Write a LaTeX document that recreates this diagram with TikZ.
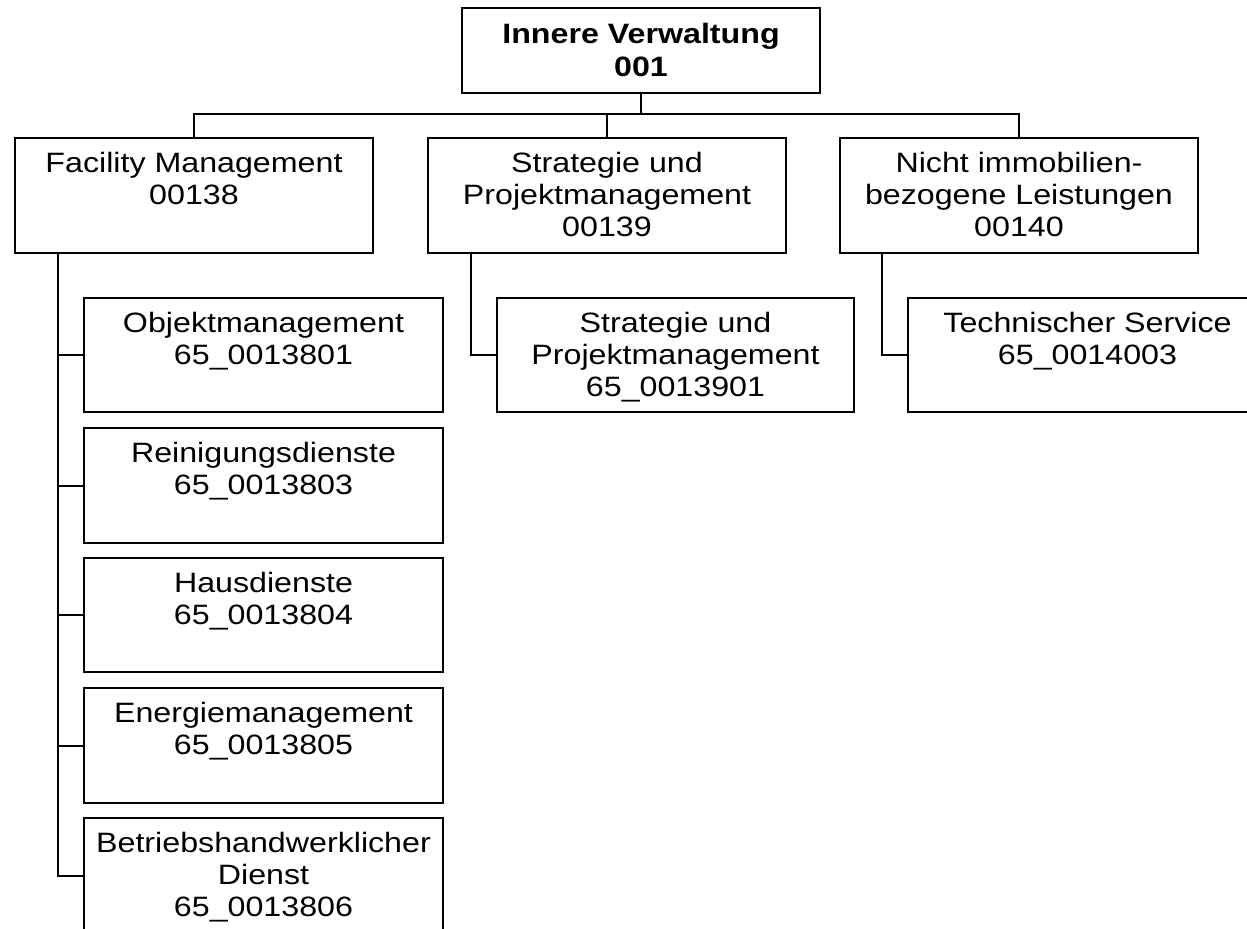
\documentclass[tikz,border=0pt]{standalone}
\usepackage{fontspec}
\setmainfont{Liberation Sans}[FakeStretch=1.15]
\begin{document}
\begin{tikzpicture}[x=0.5pt,y=-0.5pt,
  orgbox/.style={draw=black,line width=1pt,rectangle,inner sep=0pt,anchor=north west},
  orgtext/.style={anchor=north,align=center,inner sep=0pt,yshift=-5.5pt,
    font=\fontsize{14pt}{16pt}\selectfont},
  conn/.style={draw=black,line width=1pt}]
\useasboundingbox (0,0) rectangle (1247,928);
\clip (0,0) rectangle (1247,928);
% top
\node[orgbox,minimum width=179pt,minimum height=42.5pt] (top) at (461,7) {};
\node[orgtext,yshift=-0.5pt,font=\fontsize{14pt}{16.5pt}\selectfont\bfseries] at (top.north) {\rule{0pt}{12pt}Innere Verwaltung\\001};
% level 1
\node[orgbox,minimum width=179pt,minimum height=57.5pt] (b1) at (14,137) {};
\node[orgtext] at (b1.north) {\rule{0pt}{12pt}Facility Management\\00138};
\node[orgbox,minimum width=179pt,minimum height=57.5pt] (b2) at (427,137) {};
\node[orgtext] at (b2.north) {\rule{0pt}{12pt}Strategie und\\Projektmanagement\\00139};
\node[orgbox,minimum width=179pt,minimum height=57.5pt] (b3) at (839,137) {};
\node[orgtext] at (b3.north) {\rule{0pt}{12pt}Nicht immobilien-\\bezogene Leistungen\\00140};
% level 2 under b1
\node[orgbox,minimum width=179.5pt,minimum height=57pt] (c1) at (83,297) {};
\node[orgtext] at (c1.north) {\rule{0pt}{12pt}Objektmanagement\\65\_0013801};
\node[orgbox,minimum width=179.5pt,minimum height=57.5pt] (c2) at (83,427) {};
\node[orgtext] at (c2.north) {\rule{0pt}{12pt}Reinigungsdienste\\65\_0013803};
\node[orgbox,minimum width=179.5pt,minimum height=57pt] (c3) at (83,557) {};
\node[orgtext] at (c3.north) {\rule{0pt}{12pt}Hausdienste\\65\_0013804};
\node[orgbox,minimum width=179.5pt,minimum height=57.5pt] (c4) at (83,687) {};
\node[orgtext] at (c4.north) {\rule{0pt}{12pt}Energiemanagement\\65\_0013805};
\node[orgbox,minimum width=179.5pt,minimum height=57.5pt] (c5) at (83,817) {};
\node[orgtext] at (c5.north) {\rule{0pt}{12pt}Betriebshandwerklicher\\Dienst\\65\_0013806};
% level 2 under b2, b3
\node[orgbox,minimum width=178.5pt,minimum height=57pt] (d1) at (496,297) {};
\node[orgtext] at (d1.north) {\rule{0pt}{12pt}Strategie und\\Projektmanagement\\65\_0013901};
\node[orgbox,minimum width=179.5pt,minimum height=57pt] (e1) at (907,297) {};
\node[orgtext] at (e1.north) {\rule{0pt}{12pt}Technischer Service\\65\_0014003};
% connectors
\coordinate (bus) at (0,114);
\coordinate (t1) at (58,0);
\coordinate (t2) at (471,0);
\coordinate (t3) at (882,0);
\draw[conn] (top.south) -- (top.south |- bus);
\draw[conn] (b1.north) -- (b1.north |- bus) -- (b3.north |- bus) -- (b3.north);
\draw[conn] (b2.north) -- (b2.north |- bus);
\draw[conn] (b1.south -| t1) |- (c5.west);
\draw[conn] (c1.west) -- (c1.west -| t1);
\draw[conn] (c2.west) -- (c2.west -| t1);
\draw[conn] (c3.west) -- (c3.west -| t1);
\draw[conn] (c4.west) -- (c4.west -| t1);
\draw[conn] (b2.south -| t2) |- (d1.west);
\draw[conn] (b3.south -| t3) |- (e1.west);
\end{tikzpicture}
\end{document}
